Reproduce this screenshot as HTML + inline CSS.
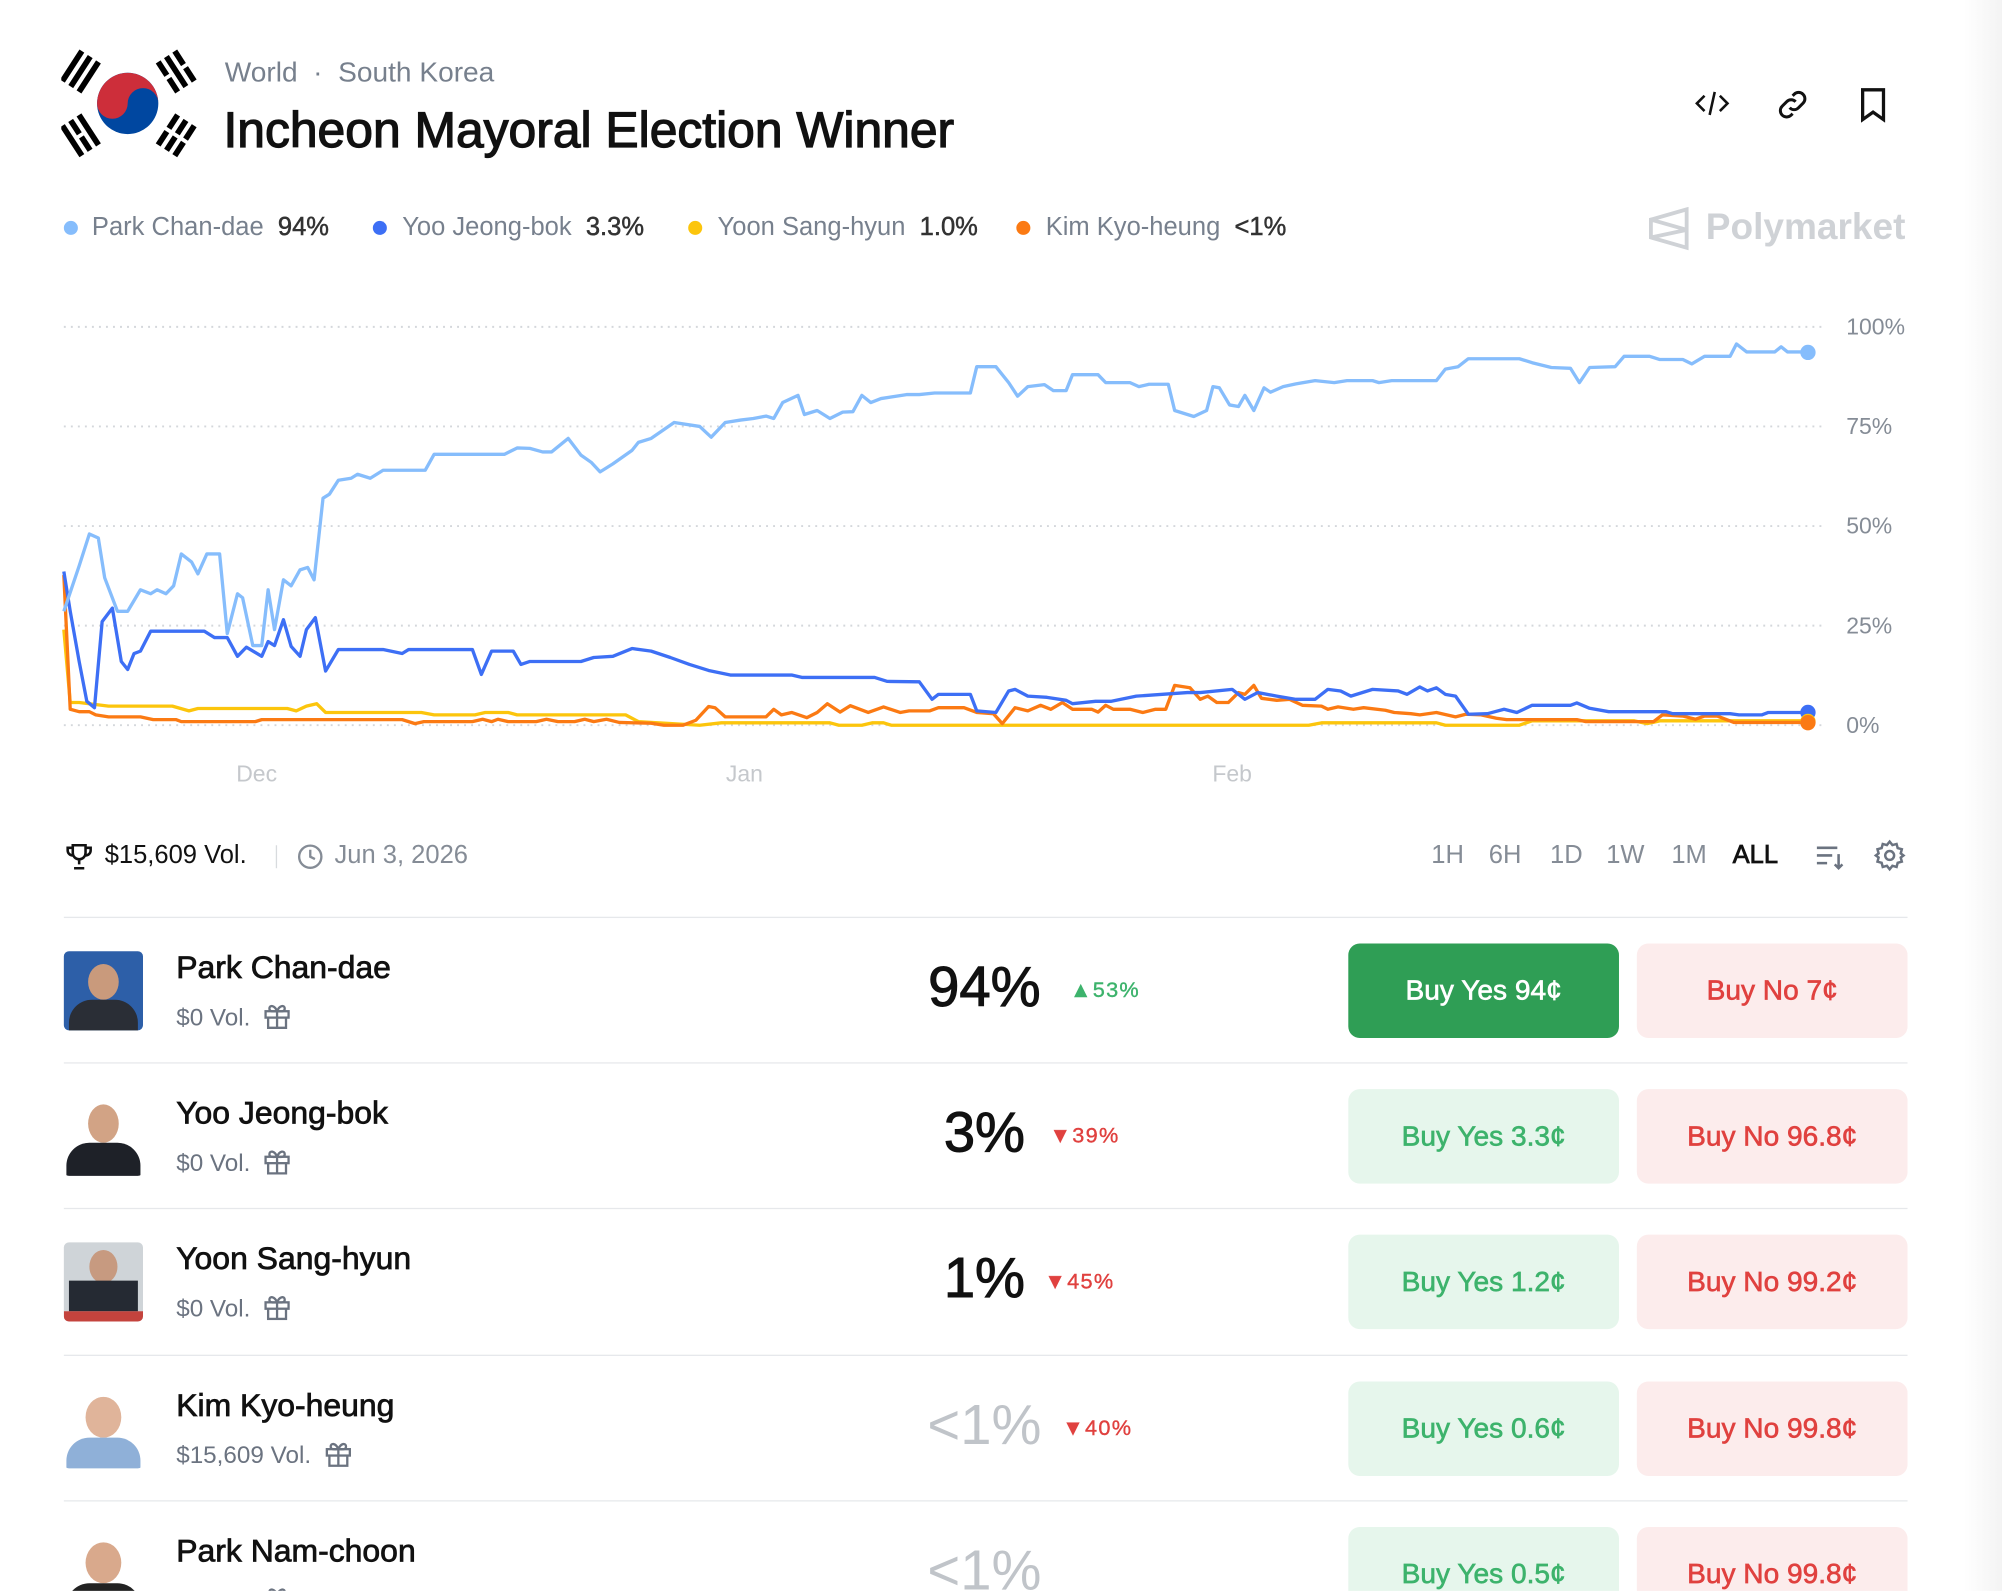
<!DOCTYPE html>
<html><head><meta charset="utf-8"><style>
*{margin:0;padding:0;box-sizing:border-box}
html,body{width:2002px;height:1590px;overflow:hidden;background:#fff}
#w{position:absolute;left:0;top:0;width:1568px;height:1246px;overflow:hidden;transform:scale(1.2768);transform-origin:0 0;font-family:"Liberation Sans",sans-serif;color:#111}
.a{position:absolute;white-space:nowrap}
.g{color:#77808d}
.leg{font-size:20px;top:167px}
.leg b{color:#333;font-weight:400;-webkit-text-stroke:0.4px #333}
.dot{position:absolute;width:11px;height:11px;border-radius:50%;top:173px}
.tf{font-size:20px;color:#858c96;top:659px}
.row{position:absolute;left:50px;width:1444px;height:114px;border-top:1px solid #e6e8eb}
.av{position:absolute;left:0;top:26px;width:62px;height:62px;border-radius:4px;overflow:hidden;background:#dfe3e8}
.nm{position:absolute;left:88px;top:25px;font-size:25px;color:#111;-webkit-text-stroke:0.6px #111}
.vol{position:absolute;left:88px;top:65px;font-size:19px;color:#6b7380}
.vol svg{vertical-align:-3px;margin-left:10px}
.pc{position:absolute;width:200px;left:621px;text-align:center;top:30px;font-size:44px;-webkit-text-stroke:0.8px currentColor}
.ch{position:absolute;top:47px;font-size:17px;letter-spacing:1px;-webkit-text-stroke:0.3px currentColor}
.by{position:absolute;left:1006px;top:20px;width:212px;height:74px;border-radius:9px;background:#e6f6ec;color:#3db36c;font-size:22px;text-align:center;line-height:74px;-webkit-text-stroke:0.5px currentColor}
.bn{position:absolute;left:1232px;top:20px;width:212px;height:74px;border-radius:9px;background:#fcecec;color:#e0413f;font-size:22px;text-align:center;line-height:74px;-webkit-text-stroke:0.5px currentColor}
</style></head><body><div id="w">
<div class="a" style="right:0;top:0;width:30px;height:1246px;background:linear-gradient(90deg,#fff,#f3f3f3)"></div>
<svg class="a" style="left:48px;top:38px" width="106" height="88" viewBox="0 0 106 88">
<defs><clipPath id="c"><circle cx="52" cy="43" r="24"/></clipPath></defs>
<g clip-path="url(#c)"><rect x="20" y="10" width="70" height="70" fill="#0047a0"/><path d="M28 43 A12 12 0 0 0 52 43 A12 12 0 0 1 76 43 A24 24 0 0 0 28 43Z" fill="#cd2e3a"/></g>
<g fill="#000">
<g transform="translate(15,18) rotate(-57)"><rect x="-14" y="-10" width="28" height="4.5"/><rect x="-14" y="-2.2" width="28" height="4.5"/><rect x="-14" y="5.5" width="28" height="4.5"/></g>
<g transform="translate(90,18) rotate(57)"><rect x="-14" y="-10" width="12.5" height="4.5"/><rect x="1.5" y="-10" width="12.5" height="4.5"/><rect x="-14" y="-2.2" width="28" height="4.5"/><rect x="-14" y="5.5" width="12.5" height="4.5"/><rect x="1.5" y="5.5" width="12.5" height="4.5"/></g>
<g transform="translate(15,68) rotate(57)"><rect x="-14" y="-10" width="28" height="4.5"/><rect x="-14" y="-2.2" width="12.5" height="4.5"/><rect x="1.5" y="-2.2" width="12.5" height="4.5"/><rect x="-14" y="5.5" width="28" height="4.5"/></g>
<g transform="translate(90,68) rotate(-57)"><rect x="-14" y="-10" width="12.5" height="4.5"/><rect x="1.5" y="-10" width="12.5" height="4.5"/><rect x="-14" y="-2.2" width="12.5" height="4.5"/><rect x="1.5" y="-2.2" width="12.5" height="4.5"/><rect x="-14" y="5.5" width="12.5" height="4.5"/><rect x="1.5" y="5.5" width="12.5" height="4.5"/></g>
</g></svg>
<div class="a g" style="left:176px;top:44px;font-size:22px">World &nbsp;·&nbsp; South Korea</div>
<div class="a" style="left:175px;top:81px;font-size:39px;-webkit-text-stroke:1px #111">Incheon Mayoral Election Winner</div>
<svg class="a" style="left:1327px;top:69px" width="28" height="24" viewBox="0 0 28 24" fill="none" stroke="#111" stroke-width="2"><path d="M8 6 2 12l6 6M20 6l6 6-6 6M16 3l-4 18"/></svg>
<svg class="a" style="left:1390px;top:68px" width="28" height="28" viewBox="0 0 24 24" fill="none" stroke="#111" stroke-width="2"><path d="M10 14a4 4 0 0 0 6 0l3-3a4 4 0 0 0-6-6l-1 1"/><path d="M14 10a4 4 0 0 0-6 0l-3 3a4 4 0 0 0 6 6l1-1"/></svg>
<svg class="a" style="left:1455px;top:68px" width="24" height="28" viewBox="0 0 20 24" fill="none" stroke="#111" stroke-width="2.2"><path d="M3 2h14v20l-7-5-7 5z"/></svg>

<div class="dot" style="left:50px;background:#86bdfc"></div><div class="a leg g" style="left:72px">Park Chan-dae <b>&nbsp;94%</b></div>
<div class="dot" style="left:292px;background:#3d6ff5"></div><div class="a leg g" style="left:315px">Yoo Jeong-bok <b>&nbsp;3.3%</b></div>
<div class="dot" style="left:539px;background:#fcc50c"></div><div class="a leg g" style="left:562px">Yoon Sang-hyun <b>&nbsp;1.0%</b></div>
<div class="dot" style="left:796px;background:#fb7a13"></div><div class="a leg g" style="left:819px">Kim Kyo-heung <b>&nbsp;&lt;1%</b></div>
<svg class="a" style="left:1290px;top:161px" width="34" height="36" viewBox="0 0 34 36" fill="none" stroke="#cfd2d6" stroke-width="3"><path d="M31 3 3 11v14l28 8zM3 11l28 8M3 25l28-6"/></svg>
<div class="a" style="left:1336px;top:162px;font-size:29px;font-weight:700;color:#cfd2d6">Polymarket</div>

<svg class="a" style="left:0;top:0" width="1568" height="640">
<g stroke="#d4d7db" stroke-width="1.5" stroke-dasharray="1.5 4">
<line x1="50" y1="256" x2="1430" y2="256"/><line x1="50" y1="334" x2="1430" y2="334"/><line x1="50" y1="412" x2="1430" y2="412"/><line x1="50" y1="490" x2="1430" y2="490"/><line x1="50" y1="568" x2="1430" y2="568"/></g>
<g font-size="18" fill="#858c96" font-family="Liberation Sans,sans-serif">
<text x="1446" y="262">100%</text><text x="1446" y="340">75%</text><text x="1446" y="418">50%</text><text x="1446" y="496">25%</text><text x="1446" y="574">0%</text></g>
<g font-size="18" fill="#c5c8cc" font-family="Liberation Sans,sans-serif" text-anchor="middle"><text x="201" y="612">Dec</text><text x="583" y="612">Jan</text><text x="965" y="612">Feb</text></g>
<g transform="translate(0,568) scale(1,-3.12)" fill="none" stroke-width="2.6" stroke-linejoin="round">
<polyline vector-effect="non-scaling-stroke" stroke="#fcc50c" points="50,24 55,5.7 62,5.7 85,4.8 135,4.8 148,3.6 155,4.2 225,4.2 232,3.6 240,4.8 248,5.4 255,3.2 330,3.2 340,2.6 372,2.6 380,3.2 398,3.2 405,2.6 490,2.6 500,0.9 548,0 565,0.6 650,0.6 657,0 675,0 683,0.6 692,0.6 698,0 1025,0 1035,0.6 1125,0.6 1132,0 1190,0 1200,1.1 1280,1.1 1290,0.4 1300,1.1 1416,1.1"/>
<polyline vector-effect="non-scaling-stroke" stroke="#fb7a13" points="50,37.7 55,4 62,3.4 70,3.4 75,2.6 85,2.1 110,2.1 120,1.4 138,1.4 142,0.9 200,0.9 205,1.4 315,1.4 325,0.4 332,0.9 370,0.9 378,1.5 385,0.9 390,1.5 398,0.9 420,0.9 428,1.5 437,0.9 450,0.9 458,1.5 465,0.9 475,1.5 485,0.7 510,0.5 520,0 535,0 545,1.25 555,4.7 560,4.4 568,2.1 600,2.1 606,4 612,2.6 620,3.2 632,1.9 640,3.2 648,5.4 658,3.3 666,4.9 680,3.2 692,4.6 705,3.2 712,3.6 728,3.6 735,4.4 755,4.4 765,3.2 778,2.9 785,0.4 795,4.4 805,3.6 815,5 823,4 832,5.7 840,4 855,4 860,3.3 866,5 872,4 885,4 895,3.2 905,4 913,4 920,10 932,9.4 940,6.5 946,7.3 953,5.7 962,5.7 970,8.2 975,7.75 982,10 988,6.75 1000,6.25 1010,6.5 1020,5 1035,4.8 1040,4 1048,4.6 1060,4 1068,4.4 1085,3.75 1092,3.2 1105,2.9 1112,2.6 1125,3.2 1140,2.1 1148,2.75 1160,2.6 1172,1.75 1180,1.4 1235,1.4 1242,0.9 1295,0.9 1302,2.6 1318,2.3 1328,1.5 1335,2.3 1345,2.3 1358,0.7 1416,0.7"/>
<polyline vector-effect="non-scaling-stroke" stroke="#3d6ff5" points="50,38.6 55,28.6 62,16 68,6 74,4.4 80,26 88,29.4 95,16 100,14 105,18 110,18.6 118,23.6 160,23.6 168,22 178,22 186,17.3 193,19.6 205,17.3 210,21 215,20 222,26.5 228,19.8 235,17.3 240,24 247,27 255,13.6 265,19 300,19 315,18 320,19 370,19 377,12.75 385,18.6 402,18.6 408,15.25 415,16 455,16 465,17 480,17.3 495,19.25 510,18.6 525,17 540,15.25 555,13.75 572,12.6 620,12.6 628,12 685,12 695,11 720,10.9 730,6.5 735,7.75 760,7.75 765,3.6 780,3.2 790,8.6 795,9 805,7.3 820,7 835,6.25 840,5.4 858,6 870,6 890,7.3 930,8.2 940,8.2 965,9 975,6.5 985,8.2 1000,7.3 1015,6.5 1030,6.5 1040,9 1050,8.6 1058,7.3 1075,9 1095,8.6 1102,7.75 1112,9.6 1118,8.6 1125,9.4 1132,7.75 1140,7.3 1150,2.75 1165,2.9 1178,4 1188,3.2 1200,5 1230,5 1235,5.6 1245,4.25 1260,3.4 1305,3.4 1310,2.9 1355,2.9 1362,2.6 1380,2.6 1385,3.2 1416,3.2"/>
<polyline vector-effect="non-scaling-stroke" stroke="#86bdfc" points="50,28.6 62,40 70,48 77,47 82,37 92,28.6 100,28.6 110,34 118,33 123,34 130,33 136,35 142,43 150,41 155,38 162,43 172,43 178,23 186,33 190,32 198,20 205,20 210,34 215,24 222,36.5 228,35 235,39 241,39.6 246,36.5 253,57 258,58 265,61.5 275,62 280,63 290,62 300,64 333,64 340,68 395,68 405,69.6 415,69.5 425,68.6 432,68.6 445,72 455,67.8 463,66 470,63.6 480,65.6 495,69 500,71 510,72 528,76 548,75 557,72.3 568,76 580,76.6 590,77 600,77.6 606,77 613,81 625,82.8 630,78 640,79 650,77 660,78.6 668,78.7 675,82.8 682,81 690,82 710,83 720,83 732,83.4 760,83.4 765,90 780,90 790,86 797,82.6 805,85 818,85.5 825,84 835,84 840,88 860,88 866,86 885,86 892,85 900,85.6 915,85.6 920,79 935,77.5 945,79 950,85 955,84.7 963,80.4 970,80 975,82.8 982,79 990,84.7 995,83.6 1005,85 1015,85.7 1030,86.5 1045,86 1055,86.5 1075,86.5 1080,86 1090,86.5 1125,86.5 1132,89.4 1142,90 1150,92 1190,92 1200,91 1215,89.8 1230,89.6 1237,86 1245,89.8 1265,90 1272,92.6 1292,92.6 1300,91.8 1318,91.8 1325,90.7 1335,92.6 1355,92.6 1360,95.7 1368,93.7 1390,93.7 1395,95 1400,93.7 1416,93.7"/>
</g>
<circle cx="1416" cy="276" r="6" fill="#86bdfc"/><circle cx="1416" cy="558" r="6" fill="#3d6ff5"/><circle cx="1416" cy="565" r="6" fill="#fcc50c"/><circle cx="1416" cy="566" r="6" fill="#fb7a13"/>
</svg>

<svg class="a" style="left:50px;top:659px" width="24" height="24" viewBox="0 0 24 24" fill="none" stroke="#111" stroke-width="2"><path d="M7 3h10v6a5 5 0 0 1-10 0zM7 5H3v2a4 4 0 0 0 4 4M17 5h4v2a4 4 0 0 1-4 4M12 14v4M8 21h8"/></svg>
<div class="a" style="left:82px;top:659px;font-size:20px;color:#111">$15,609 Vol.</div>
<div class="a" style="left:216px;top:662px;width:1px;height:18px;background:#d8dbde"></div>
<svg class="a" style="left:232px;top:660px" width="22" height="22" viewBox="0 0 24 24" fill="none" stroke="#858c96" stroke-width="2"><circle cx="12" cy="12" r="9.5"/><path d="M12 6v6l4 2"/></svg>
<div class="a tf" style="left:262px">Jun 3, 2026</div>
<div class="a tf" style="left:1121px">1H</div><div class="a tf" style="left:1166px">6H</div><div class="a tf" style="left:1214px">1D</div><div class="a tf" style="left:1258px">1W</div><div class="a tf" style="left:1309px">1M</div><div class="a tf" style="left:1357px;color:#111;-webkit-text-stroke:0.6px #111">ALL</div>
<svg class="a" style="left:1421px;top:659px" width="24" height="24" viewBox="0 0 24 24" fill="none" stroke="#6b7380" stroke-width="2"><path d="M2 5h16M2 11h12M2 17h8M19 10v11M16 18l3 3 3-3"/></svg>
<svg class="a" style="left:1467px;top:657px" width="26" height="26" viewBox="0 0 24 24" fill="none" stroke="#6b7380" stroke-width="1.8"><circle cx="12" cy="12" r="3.2"/><path d="M12 2l2 2.5 3-.8.8 3 3 .8-.8 3L22 12l-2 1.5.8 3-3 .8-.8 3-3-.8L12 22l-2-2.5-3 .8-.8-3-3-.8.8-3L2 12l2-1.5-.8-3 3-.8.8-3 3 .8z"/></svg>

<svg width="0" height="0" style="position:absolute"><defs><g id="gift" fill="none" stroke="#6b7380" stroke-width="1.8"><rect x="2" y="8" width="18" height="5"/><path d="M4 13v8h14v-8M11 8v13M11 8C9 3 5 3 5 6s4 2 6 2c2 0 6 1 6-2s-4-3-6 2"/></g></defs></svg>

<div class="row" style="top:718px">
<div class="av" style="background:#2d5fa8"><div style="position:absolute;left:19px;top:10px;width:24px;height:28px;border-radius:50%;background:#c99a7c"></div><div style="position:absolute;left:4px;top:38px;width:54px;height:30px;border-radius:18px 18px 0 0;background:#2a2e36"></div></div>
<div class="nm">Park Chan-dae</div><div class="vol">$0 Vol.<svg width="22" height="22" viewBox="0 0 22 22"><use href="#gift"/></svg></div>
<div class="pc" style="color:#111">94%</div><div class="ch" style="left:788px;color:#3db36c">▲53%</div>
<div class="by" style="background:#2f9e55;color:#fff">Buy Yes 94¢</div><div class="bn">Buy No 7¢</div></div>
<div class="row" style="top:832px">
<div class="av" style="background:#fff"><div style="position:absolute;left:19px;top:6px;width:24px;height:30px;border-radius:50%;background:#d2a385"></div><div style="position:absolute;left:2px;top:36px;width:58px;height:30px;border-radius:18px 18px 0 0;background:#1e2128"></div></div>
<div class="nm">Yoo Jeong-bok</div><div class="vol">$0 Vol.<svg width="22" height="22" viewBox="0 0 22 22"><use href="#gift"/></svg></div>
<div class="pc">3%</div><div class="ch" style="left:772px;color:#e0413f">▼39%</div>
<div class="by">Buy Yes 3.3¢</div><div class="bn">Buy No 96.8¢</div></div>
<div class="row" style="top:946px">
<div class="av" style="background:#cfd4d8"><div style="position:absolute;left:20px;top:6px;width:22px;height:26px;border-radius:50%;background:#c79a80"></div><div style="position:absolute;left:4px;top:30px;width:54px;height:24px;background:#252a33"></div><div style="position:absolute;left:0;top:54px;width:62px;height:8px;background:#c4433d"></div></div>
<div class="nm">Yoon Sang-hyun</div><div class="vol">$0 Vol.<svg width="22" height="22" viewBox="0 0 22 22"><use href="#gift"/></svg></div>
<div class="pc">1%</div><div class="ch" style="left:768px;color:#e0413f">▼45%</div>
<div class="by">Buy Yes 1.2¢</div><div class="bn">Buy No 99.2¢</div></div>
<div class="row" style="top:1061px">
<div class="av" style="background:#fff"><div style="position:absolute;left:17px;top:6px;width:28px;height:32px;border-radius:50%;background:#e0b49a"></div><div style="position:absolute;left:2px;top:38px;width:58px;height:26px;border-radius:18px 18px 0 0;background:#8fb0d8"></div></div>
<div class="nm">Kim Kyo-heung</div><div class="vol">$15,609 Vol.<svg width="22" height="22" viewBox="0 0 22 22"><use href="#gift"/></svg></div>
<div class="pc" style="color:#c0c4c9;-webkit-text-stroke:0">&lt;1%</div><div class="ch" style="left:782px;color:#e0413f">▼40%</div>
<div class="by">Buy Yes 0.6¢</div><div class="bn">Buy No 99.8¢</div></div>
<div class="row" style="top:1175px">
<div class="av" style="background:#fff"><div style="position:absolute;left:17px;top:6px;width:28px;height:32px;border-radius:50%;background:#d9a98c"></div><div style="position:absolute;left:2px;top:38px;width:58px;height:26px;border-radius:18px 18px 0 0;background:#222"></div></div>
<div class="nm">Park Nam-choon</div><div class="vol">$0 Vol.<svg width="22" height="22" viewBox="0 0 22 22"><use href="#gift"/></svg></div>
<div class="pc" style="color:#c0c4c9;-webkit-text-stroke:0">&lt;1%</div>
<div class="by">Buy Yes 0.5¢</div><div class="bn">Buy No 99.8¢</div></div>
</div></body></html>
